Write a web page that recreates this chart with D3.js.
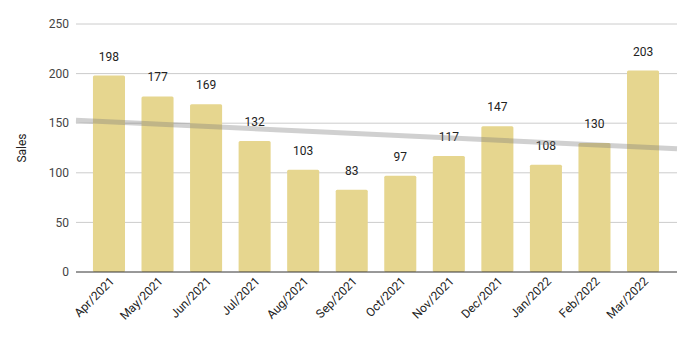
<!DOCTYPE html>
<html>
<head>
<meta charset="utf-8">
<script src="https://cdn.jsdelivr.net/npm/d3@7"></script>
<style>
  body { margin: 0; background: #fff; }
  text { font-family: Roboto, Arial, sans-serif; }
</style>
</head>
<body>
<svg width="693" height="338"></svg>
<script>
var months = ["Apr/2021", "May/2021", "Jun/2021", "Jul/2021", "Aug/2021", "Sep/2021",
              "Oct/2021", "Nov/2021", "Dec/2021", "Jan/2022", "Feb/2022", "Mar/2022"];
var sales = [198, 177, 169, 132, 103, 83, 97, 117, 147, 108, 130, 203];
var yTicks = [0, 50, 100, 150, 200, 250];

var svg = d3.select("svg");

var plotLeft = 76, plotRight = 677;

var x = d3.scaleBand()
    .domain(months)
    .range([84.7, 667.3])
    .paddingInner(0.34)
    .paddingOuter(0.17);

var y = d3.scaleLinear()
    .domain([0, 250])
    .range([272, 24]);

// gridlines
svg.append("g").selectAll("line")
    .data(yTicks.filter(d => d > 0))
    .enter().append("line")
    .attr("x1", plotLeft).attr("x2", plotRight)
    .attr("y1", d => y(d)).attr("y2", d => y(d))
    .attr("stroke", "#cccccc").attr("stroke-width", 1);

// y tick labels
svg.append("g").selectAll("text")
    .data(yTicks)
    .enter().append("text")
    .attr("x", 69)
    .attr("y", d => y(d))
    .attr("dy", "0.35em")
    .attr("text-anchor", "end")
    .attr("font-size", 12)
    .attr("fill", "#444")
    .text(d => d);

// axis title
svg.append("text")
    .attr("transform", "translate(26," + y(125) + ") rotate(-90)")
    .attr("text-anchor", "middle")
    .attr("font-size", 12)
    .attr("fill", "#222")
    .text("Sales");

// bars
svg.append("g").selectAll("rect")
    .data(sales)
    .enter().append("rect")
    .attr("x", (d, i) => x(months[i]))
    .attr("width", x.bandwidth())
    .attr("y", d => y(d))
    .attr("height", d => y(0) - y(d))
    .attr("rx", 1.5)
    .attr("fill", "#e6d68f");

// value labels
svg.append("g").selectAll("text")
    .data(sales)
    .enter().append("text")
    .attr("x", (d, i) => x(months[i]) + x.bandwidth() / 2)
    .attr("y", d => y(d) - 15)
    .attr("text-anchor", "middle")
    .attr("font-size", 12)
    .attr("fill", "#222")
    .text(d => d);

// baseline
svg.append("line")
    .attr("x1", plotLeft).attr("x2", plotRight)
    .attr("y1", y(0)).attr("y2", y(0))
    .attr("stroke", "#333").attr("stroke-width", 1);

// linear trendline
var n = sales.length,
    mx = d3.mean(sales, (d, i) => i),
    my = d3.mean(sales);
var sxy = d3.sum(sales, (d, i) => (i - mx) * (d - my)),
    sxx = d3.sum(sales, (d, i) => (i - mx) * (i - mx));
var slope = sxy / sxx, icpt = my - slope * mx;
var cx0 = x(months[0]) + x.bandwidth() / 2, step = x.step();
function trendAt(px) { var t = (px - cx0) / step; return y(icpt + slope * t); }
svg.append("line")
    .attr("x1", plotLeft).attr("y1", trendAt(plotLeft))
    .attr("x2", plotRight).attr("y2", trendAt(plotRight))
    .attr("stroke", "#777")
    .attr("stroke-opacity", 0.35)
    .attr("stroke-width", 5);

// x labels
svg.append("g").selectAll("text")
    .data(months)
    .enter().append("text")
    .attr("transform", d => "translate(" + (x(d) + x.bandwidth() / 2 + 6) + ",282) rotate(-45)")
    .attr("text-anchor", "end")
    .attr("font-size", 12)
    .attr("fill", "#222")
    .text(d => d);
</script>
</body>
</html>
